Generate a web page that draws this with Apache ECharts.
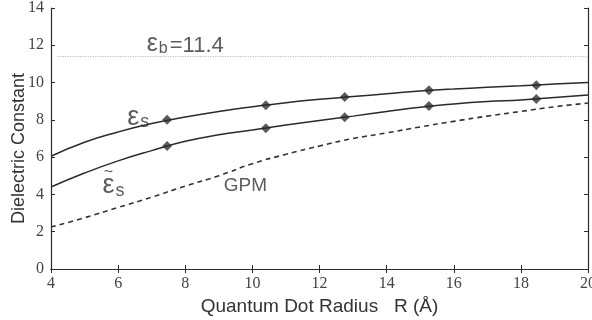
<!DOCTYPE html>
<html>
<head>
<meta charset="utf-8">
<script src="https://cdn.jsdelivr.net/npm/echarts@6/dist/echarts.min.js"></script>
<style>
  html, body { margin: 0; padding: 0; background: #fff; }
  #chart { width: 592px; height: 320px; }
</style>
</head>
<body>
<div id="chart"></div>
<script>
// curve samples (R in Å)
const radius = [4, 5, 6, 7, 8, 9, 10, 11, 12, 13, 14, 15, 16, 17, 18, 19, 20];
const epsS = [6.05, 6.8, 7.35, 7.8, 8.15, 8.45, 8.7, 8.92, 9.1, 9.25, 9.4, 9.55, 9.65, 9.75, 9.83, 9.92, 10.0];
const epsTilde = [4.4, 5.15, 5.8, 6.35, 6.85, 7.2, 7.45, 7.72, 7.97, 8.2, 8.45, 8.68, 8.85, 8.98, 9.07, 9.2, 9.33];
const gpm = [2.25, 2.75, 3.3, 3.85, 4.45, 5.0, 5.65, 6.15, 6.6, 7.0, 7.3, 7.62, 7.92, 8.2, 8.45, 8.7, 8.9];

// diamond markers
const markerR = [7.46, 10.4, 12.75, 15.26, 18.46];
const markerS = [8.0, 8.78, 9.22, 9.59, 9.86];
const markerTilde = [6.6, 7.55, 8.14, 8.74, 9.12];

// bulk value
const epsB = 11.4;
const epsBRange = [4.2, 20];

const xTicks = [4, 20, 2];
const yTicks = [0, 14, 2];

// in-plot annotations (data coordinates)
const notes = [
  { text: "{eb|ε}{b|b}{n|=11.4}", at: [8.0, 12.07] },
  { text: "{e|ε}{s|s}", at: [6.6, 8.15] },
  { text: "{tl|~}\n{e|ε}{s|s}", at: [5.86, 4.45] },
  { text: "{t|GPM}", at: [9.79, 4.45] }
];

const zip = (xs, ys) => xs.map((x, i) => [x, ys[i]]);

const chart = echarts.init(document.getElementById("chart"));

const serif = "Liberation Serif";
const sans = "Liberation Sans";
const ink = "#2a2a2a";

const mirrorAxis = {
  axisLine: { show: true, lineStyle: { color: ink, width: 1.2 } },
  axisTick: { show: true, inside: true, length: 4, lineStyle: { color: ink } },
  axisLabel: { show: false },
  splitLine: { show: false }
};

chart.setOption({
  animation: false,
  grid: { left: 51, right: 4, top: 8, bottom: 51, containLabel: false, outerBoundsMode: "none" },
  xAxis: [
    {
      type: "value", min: xTicks[0], max: xTicks[1], interval: xTicks[2],
      name: "Quantum Dot Radius   R (Å)",
      nameLocation: "middle", nameGap: 28, nameMoveOverlap: false,
      nameTextStyle: { fontFamily: sans, fontSize: 19, color: "#333" },
      axisLine: { lineStyle: { color: ink, width: 1.2 } },
      axisTick: { inside: true, length: 4, lineStyle: { color: ink } },
      axisLabel: { fontFamily: serif, fontSize: 16, color: "#444", margin: 7, hideOverlap: false },
      splitLine: { show: false }
    },
    Object.assign({}, mirrorAxis, {
      type: "value", position: "top", min: xTicks[0], max: xTicks[1], interval: xTicks[2]
    })
  ],
  yAxis: [
    {
      type: "value", min: yTicks[0], max: yTicks[1], interval: yTicks[2],
      name: "Dielectric Constant",
      nameLocation: "middle", nameGap: 23, nameMoveOverlap: false,
      nameTextStyle: { fontFamily: sans, fontSize: 18, color: "#333", padding: [0, 20, 0, 0] },
      axisLine: { show: true, lineStyle: { color: ink, width: 1.2 } },
      axisTick: { show: true, inside: true, length: 4, lineStyle: { color: ink } },
      axisLabel: { fontFamily: serif, fontSize: 16, color: "#444", margin: 7 },
      splitLine: { show: false }
    },
    Object.assign({}, mirrorAxis, {
      type: "value", position: "right", min: yTicks[0], max: yTicks[1], interval: yTicks[2]
    })
  ],
  series: [
    {
      type: "line", data: zip(epsBRange, [epsB, epsB]), showSymbol: false,
      lineStyle: { color: "#aaa", width: 1, type: [1, 1.5] }
    },
    {
      type: "line", data: zip(radius, epsS), smooth: true, showSymbol: false,
      lineStyle: { color: ink, width: 1.5 }
    },
    {
      type: "line", data: zip(radius, epsTilde), smooth: true, showSymbol: false,
      lineStyle: { color: ink, width: 1.5 }
    },
    {
      type: "line", data: zip(radius, gpm), smooth: true, showSymbol: false,
      lineStyle: { color: "#333", width: 1.6, type: [5, 4] }
    },
    {
      type: "scatter", symbol: "diamond", symbolSize: 10,
      data: zip(markerR, markerS).concat(zip(markerR, markerTilde)),
      itemStyle: { color: "#333" }
    },
    {
      type: "scatter", symbolSize: 0, silent: true,
      data: notes.map(n => ({ value: n.at, label: { formatter: n.text } })),
      label: {
        show: true, position: "inside", align: "center",
        color: "#333",
        rich: {
          e: { fontFamily: sans, fontSize: 27, color: "#333", verticalAlign: "bottom" },
          eb: { fontFamily: sans, fontSize: 25, color: "#333", verticalAlign: "bottom" },
          s: { fontFamily: sans, fontSize: 18, color: "#333", verticalAlign: "bottom", padding: [3, 0, 0, 1] },
          b: { fontFamily: sans, fontSize: 16, color: "#333", verticalAlign: "bottom", padding: [6, 2, 0, 1] },
          n: { fontFamily: sans, fontSize: 22, color: "#333", verticalAlign: "bottom" },
          t: { fontFamily: sans, fontSize: 19, color: "#333", verticalAlign: "bottom" },
          tl: { fontFamily: sans, fontSize: 16, color: "#333", lineHeight: 0, padding: [0, 10, 0, 0] }
        }
      }
    }
  ]
});
</script>
</body>
</html>
